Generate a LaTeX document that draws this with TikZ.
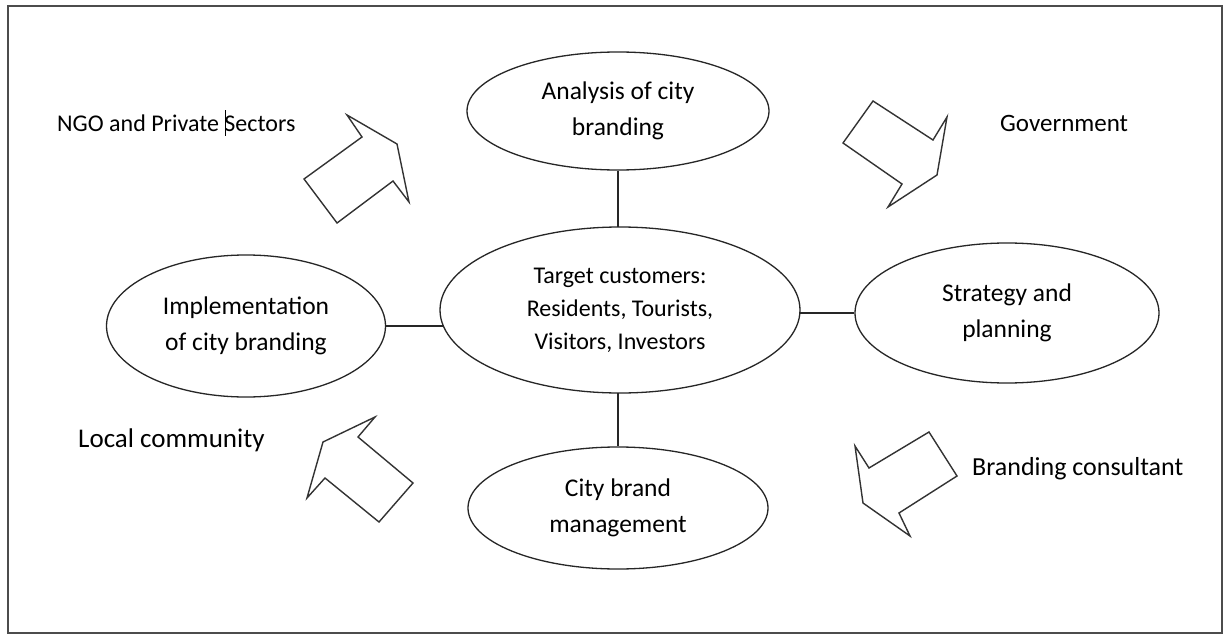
\documentclass[tikz,border=0pt]{standalone}
\usepackage{fontspec}
\setmainfont{Carlito}
\usetikzlibrary{shapes.geometric,backgrounds}
\tikzset{
  oval/.style={ellipse, draw=black!85, line width=1.3pt, fill=white, align=center,
    inner sep=0pt, font=\fontsize{25.5}{36}\selectfont},
  link/.style={draw=black!85, line width=1.3pt},
  blockarrow/.style={draw=black!80, line width=1.4pt, line join=miter},
  frame/.style={draw=black!70, line width=2pt},
  label/.style={anchor=base west, inner sep=0pt, font=\fontsize{24}{28}\selectfont}
}
\begin{document}
\begin{tikzpicture}[x=1pt,y=-1pt]
\useasboundingbox (0,0) rectangle (1224,634);
\draw[frame] (8,6) rectangle (1222,633);

\node[oval, minimum width=302pt, minimum height=118pt] (analysis) at (618,111) {Analysis of city\\branding};
\node[oval, minimum width=360pt, minimum height=166pt, font=\fontsize{24}{33}\selectfont] (center) at (620,310) {Target customers:\\Residents, Tourists,\\Visitors, Investors};
\node[oval, minimum width=279pt, minimum height=142pt] (impl) at (246,326) {Implementation\\of city branding};
\node[oval, minimum width=304pt, minimum height=140pt] (strat) at (1007,313) {Strategy and\\planning};
\node[oval, minimum width=300pt, minimum height=122pt] (manage) at (618,508) {City brand\\management};

\begin{pgfonlayer}{background}
\fill[white] (0,0) rectangle (1224,634);
\draw[link] (analysis.south) -- (manage.north);
\draw[link] (impl.east) -- (impl.east -| center.center);
\draw[link] (strat.west) -- (strat.west -| center.center);
\end{pgfonlayer}

% block arrows
\draw[blockarrow] (347,115) -- (397,144) -- (409,202) -- (393,181) -- (337,223) -- (304,179) -- (362,137) -- cycle;
\draw[blockarrow] (873,101) -- (933,140) -- (947,117) -- (937,175) -- (888,207) -- (902,184) -- (843,143) -- cycle;
\draw[blockarrow] (375,417) -- (358,437) -- (413,483) -- (379,522) -- (325,478) -- (307,498) -- (323,442) -- cycle;
\draw[blockarrow] (929,432) -- (957,476) -- (899,513) -- (910,536) -- (863,503) -- (855,446) -- (869,468) -- cycle;

\node[label] (ngo) at (57,131) {NGO and Private Sectors};
\node[label, font=\fontsize{25}{28}\selectfont] (gov) at (1000,131) {Government};
\node[label, font=\fontsize{27}{30}\selectfont] (local) at (78,447) {Local community};
\node[label, font=\fontsize{26}{30}\selectfont] (consult) at (972,475) {Branding consultant};
\draw[line width=1.8pt] (225.5,110) -- (225.5,136);
\end{tikzpicture}
\end{document}
